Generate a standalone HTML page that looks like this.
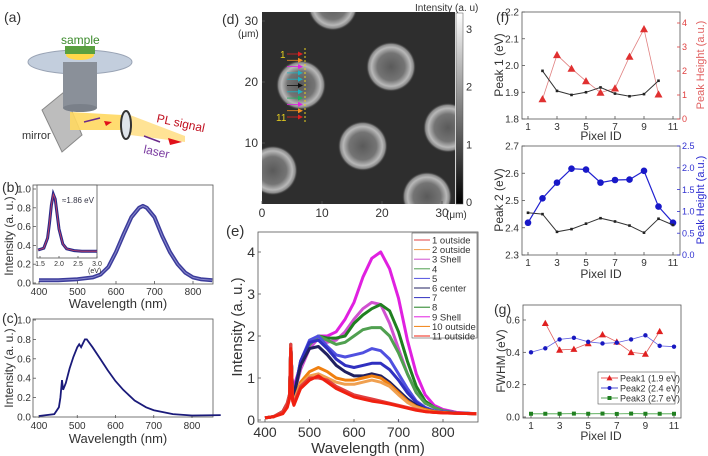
<!DOCTYPE html>
<html><head><meta charset="utf-8"><style>
html,body{margin:0;padding:0;background:#fff;}
svg{display:block;font-family:"Liberation Sans",Arial,sans-serif;}
.t{fill:#333;}
</style></head><body>
<svg id="fig" width="708" height="456" viewBox="0 0 708 456" xmlns="http://www.w3.org/2000/svg">
<defs>
<radialGradient id="ring" cx="50%" cy="50%" r="50%">
<stop offset="0" stop-color="#5a5a5a"/><stop offset="0.55" stop-color="#747474"/><stop offset="0.78" stop-color="#b8b8b8"/><stop offset="0.9" stop-color="#8a8a8a"/><stop offset="1" stop-color="#303030" stop-opacity="0"/>
</radialGradient>
<linearGradient id="cbar" x1="0" y1="0" x2="0" y2="1"><stop offset="0" stop-color="#fff"/><stop offset="1" stop-color="#000"/></linearGradient>
<clipPath id="mapclip"><rect x="262" y="12" width="193" height="192"/></clipPath>
</defs>

<g>
<text x="4" y="22" font-size="14" class="t">(a)</text>
<polygon points="42,110 64,92 82,135 62,152" fill="#bdbdbd" stroke="#888" stroke-width="1"/>
<polygon points="70,112 122,115 122,130 70,130" fill="#ffd860" opacity="0.9"/>
<polygon points="130,115 185,136 185,142 130,135" fill="#ffe08a" opacity="0.9"/>
<ellipse cx="80" cy="62" rx="52" ry="12" fill="#b9c6d8" stroke="#8894a8" opacity="0.85"/>
<rect x="63" y="62" width="34" height="46" fill="#8a9099"/>
<ellipse cx="80" cy="108" rx="17" ry="4" fill="#7a8089"/>
<ellipse cx="80" cy="55" rx="14" ry="5" fill="#ffd84a"/>
<rect x="65" y="46" width="30" height="8" fill="#5aa040"/>
<text x="61" y="44" font-size="12" fill="#3a8a2a">sample</text>
<ellipse cx="126" cy="125" rx="5" ry="14" fill="#dfe4ea" stroke="#333" stroke-width="2"/>
<line x1="84" y1="122" x2="100" y2="118" stroke="#6a2a8a" stroke-width="1.5"/>
<polygon points="104,121 112,122 106,126" fill="#e0101a"/>
<line x1="144" y1="136" x2="160" y2="142" stroke="#6a2a8a" stroke-width="1.5"/>
<polygon points="168,138 182,142 170,145" fill="#e0101a"/>
<text x="22" y="139" font-size="11" class="t">mirror</text>
<text x="156" y="122" font-size="12" fill="#c01020" transform="rotate(12 156 122)">PL signal</text>
<text x="143" y="153" font-size="12" fill="#7a3aa0" transform="rotate(12 143 153)">laser</text>
</g>

<g>
<text x="2" y="192" font-size="14" class="t">(b)</text>
<rect x="33" y="185" width="180" height="99" fill="none" stroke="#555" stroke-width="0.8"/>
<rect x="37" y="185" width="60" height="73" fill="#fff" stroke="#555" stroke-width="0.8"/>
<text x="62" y="203" font-size="8" fill="#334">≈1.86 eV</text>
<text x="118" y="308" font-size="13" text-anchor="middle" class="t">Wavelength (nm)</text>
<text transform="translate(13 236) rotate(-90)" font-size="12" text-anchor="middle" class="t">Intensity (a. u.)</text>
<g id="bticks"></g><g id="bdata"></g>
</g>

<g>
<text x="2" y="323" font-size="14" class="t">(c)</text>
<rect x="33" y="319" width="180" height="98" fill="none" stroke="#555" stroke-width="0.8"/>
<text x="118" y="443" font-size="13" text-anchor="middle" class="t">Wavelength (nm)</text>
<text transform="translate(13 368) rotate(-90)" font-size="12" text-anchor="middle" class="t">Intensity (a. u.)</text>
<g id="cticks"></g><g id="cdata"></g>
</g>

<g>
<text x="222" y="24" font-size="14" class="t">(d)</text>
<g clip-path="url(#mapclip)">
<rect x="262" y="12" width="193" height="192" fill="#2e2e2e"/>
<g id="rings"></g>
</g>
<rect x="456" y="13" width="7" height="191" fill="url(#cbar)" stroke="#555" stroke-width="0.5"/>
<text x="415" y="11" font-size="10" class="t">Intensity (a. u)</text>
<g id="cbticks"></g>
<g id="dticks"></g>
<line x1="305" y1="48" x2="305" y2="123" stroke="#e8d020" stroke-width="1" stroke-dasharray="2,2"/>
<g id="arrows"></g>
<text x="280" y="58" font-size="10" fill="#e8d020">1</text>
<text x="276" y="121" font-size="10" fill="#e8d020">11</text>
<text x="238" y="37" font-size="10" class="t">(μm)</text>
<text x="446" y="218" font-size="10" class="t">(μm)</text>
</g>

<g>
<text x="226" y="236" font-size="15" class="t">(e)</text>
<rect x="258" y="232" width="220" height="190" fill="none" stroke="#555" stroke-width="0.8"/>
<text x="368" y="453" font-size="15" text-anchor="middle" class="t">Wavelength (nm)</text>
<text transform="translate(242 327) rotate(-90)" font-size="15" text-anchor="middle" class="t">Intensity (a. u.)</text>
<g id="eticks"></g><g id="edata"></g>
<rect x="412" y="233" width="65" height="105" fill="#fff" stroke="#555" stroke-width="0.6"/>
<g id="elegend"></g>
</g>

<g>
<text x="496" y="22" font-size="14" class="t">(f)</text>
<rect x="522" y="12" width="158" height="107" fill="none" stroke="#555" stroke-width="0.8"/>
<rect x="522" y="146" width="158" height="109" fill="none" stroke="#555" stroke-width="0.8"/>
<text transform="translate(503 65) rotate(-90)" font-size="12" text-anchor="middle" class="t">Peak 1 (eV)</text>
<text transform="translate(704 65) rotate(-90)" font-size="11" text-anchor="middle" fill="#e06060">Peak Height (a.u.)</text>
<text transform="translate(503 200) rotate(-90)" font-size="12" text-anchor="middle" class="t">Peak 2 (eV)</text>
<text transform="translate(704 200) rotate(-90)" font-size="11" text-anchor="middle" fill="#2a2ad0">Peak Height (a.u.)</text>
<text x="601" y="140" font-size="12" text-anchor="middle" class="t">Pixel ID</text>
<text x="601" y="278" font-size="12" text-anchor="middle" class="t">Pixel ID</text>
<g id="fticks"></g><g id="fdata"></g>
</g>

<g>
<text x="494" y="314" font-size="14" class="t">(g)</text>
<rect x="523" y="305" width="158" height="113" fill="none" stroke="#555" stroke-width="0.8"/>
<text transform="translate(505 361) rotate(-90)" font-size="12" text-anchor="middle" class="t">FWHM (eV)</text>
<text x="601" y="440" font-size="12" text-anchor="middle" class="t">Pixel ID</text>
<g id="gticks"></g><g id="gdata"></g>
<rect x="598" y="372" width="77" height="32" fill="#fff" stroke="#555" stroke-width="0.6"/>
<g id="glegend"></g>
</g>
</svg>
<script>
const bWave=[400,450,500,540,560,580,600,620,640,660,670,680,700,720,740,760,780,800,820,850];
const bInt=[0.03,0.03,0.04,0.06,0.09,0.17,0.33,0.52,0.70,0.80,0.82,0.80,0.70,0.50,0.33,0.20,0.11,0.06,0.04,0.03];
const insetEv=[1.45,1.6,1.7,1.75,1.8,1.85,1.9,1.95,2.0,2.1,2.2,2.4,2.6,3.0];
const insetInt=[0.05,0.08,0.25,0.5,0.8,0.98,0.9,0.65,0.4,0.15,0.07,0.04,0.03,0.03];
const cWave=[400,440,452,456,460,463,470,480,490,500,505,510,520,525,540,560,580,600,620,650,680,700,750,800,875];
const cInt=[0.01,0.03,0.1,0.2,0.38,0.28,0.35,0.5,0.62,0.72,0.75,0.72,0.8,0.8,0.72,0.6,0.48,0.37,0.28,0.17,0.1,0.07,0.03,0.015,0.02];
const eWave=[400,420,440,450,455,458,462,465,480,500,520,540,560,580,600,620,640,660,680,700,720,740,760,780,800,830,875];
const eLabels=["1 outside","2 outside","3 Shell","4","5","6 center","7","8","9 Shell","10 outside","11 outside"];
const eColors=["#e04040","#f0a050","#d050d0","#50a050","#5050e0","#202060","#3030c0","#208020","#e020e0","#f08010","#f02010"];
const s1=[.05,.08,.2,.4,.6,1.8,.5,.4,.8,1.0,1.0,.95,.8,.7,.6,.55,.5,.45,.4,.35,.3,.25,.2,.18,.17,.16,.15];
const s2=[.05,.08,.2,.4,.6,1.8,.5,.45,.85,1.05,1.1,1.0,.9,.85,.85,.9,.95,.9,.8,.6,.42,.3,.22,.18,.17,.16,.15];
const s3=[.05,.08,.2,.4,.6,1.8,.6,.6,1.2,1.7,1.95,1.85,1.9,2.1,2.4,2.65,2.8,2.75,2.3,1.7,1.1,.65,.4,.3,.2,.17,.15];
const s4=[.05,.08,.2,.4,.6,1.8,.6,.6,1.3,1.8,2.0,1.9,1.8,1.85,2.0,2.15,2.2,2.2,2.0,1.6,1.1,.65,.4,.3,.22,.17,.15];
const s5=[.05,.08,.2,.4,.6,1.8,.6,.6,1.4,1.9,2.0,1.75,1.55,1.5,1.55,1.6,1.7,1.65,1.45,1.1,.75,.45,.3,.22,.2,.17,.15];
const s6=[.05,.08,.2,.4,.6,1.8,.6,.6,1.3,1.7,1.75,1.55,1.3,1.15,1.05,1.05,1.1,1.05,.9,.7,.5,.35,.25,.2,.18,.16,.15];
const s7=[.05,.08,.2,.4,.6,1.8,.6,.6,1.4,1.85,1.9,1.7,1.45,1.3,1.25,1.3,1.35,1.35,1.2,.95,.65,.42,.28,.2,.18,.16,.15];
const s8=[.05,.08,.2,.4,.6,1.8,.6,.6,1.3,1.8,2.0,1.95,1.95,2.0,2.3,2.5,2.65,2.75,2.6,2.1,1.4,.8,.45,.3,.22,.17,.15];
const s9=[.05,.08,.2,.4,.6,1.8,.6,.8,1.3,1.75,2.0,2.0,2.1,2.4,2.8,3.4,3.85,4.0,3.6,2.9,1.9,1.1,.6,.35,.25,.18,.15];
const s10=[.05,.08,.2,.4,.6,1.8,.5,.45,.9,1.15,1.25,1.15,1.0,.95,.95,1.0,1.05,1.0,.85,.65,.45,.32,.25,.2,.18,.16,.15];
const s11=[.05,.08,.15,.3,.5,1.7,.45,.35,.75,.95,1.05,.9,.75,.65,.55,.5,.45,.42,.38,.33,.28,.23,.2,.18,.17,.16,.15];
const eSeries=[s1,s2,s3,s4,s5,s6,s7,s8,s9,s10,s11];
const pixelIds=[1,2,3,4,5,6,7,8,9,10,11];
const peak1Ids=[2,3,4,5,6,7,8,9,10];
const peak1Ev=[1.98,1.905,1.89,1.90,1.918,1.895,1.885,1.893,1.943];
const peak1Height=[0.83,2.67,2.1,1.58,1.1,1.28,2.6,3.75,1.03];
const peak2Ev=[2.455,2.45,2.385,2.395,2.415,2.435,2.423,2.408,2.382,2.433,2.41];
const peak2Height=[0.74,1.3,1.66,1.98,1.96,1.66,1.72,1.73,1.93,1.11,0.74];
const fwhm1=[0.58,0.415,0.42,0.455,0.51,0.465,0.40,0.39,0.53];
const fwhm2=[0.40,0.425,0.48,0.49,0.465,0.455,0.46,0.48,0.505,0.44,0.435];
const fwhm3=[0.02,0.02,0.02,0.021,0.02,0.021,0.019,0.021,0.02,0.02,0.02];
const mapRingX=[6.5,21.5,16.8,31,1.8,11.8,27.5];
const mapRingY=[19.5,22.5,9.5,12.5,5.5,32.5,1.2];
const arrowColors=["#e02020","#f09020","#e020e0","#20b0c0","#20b0c0","#101010","#20b0c0","#20b060","#e020e0","#f09020","#e02020"];

const NS="http://www.w3.org/2000/svg";
function mk(tag,attrs,parent){const el=document.createElementNS(NS,tag);for(const k in attrs)el.setAttribute(k,attrs[k]);parent.appendChild(el);return el;}
function sc(d0,d1,r0,r1){return v=>r0+(v-d0)*(r1-r0)/(d1-d0);}
function pathD(xs,ys,fx,fy){return xs.map((x,i)=>(i?'L':'M')+fx(x).toFixed(1)+','+fy(ys[i]).toFixed(1)).join('');}
function xticks(g,vals,fx,y0,len,lab,fs,cls){vals.forEach(v=>{const l=mk('line',{x1:fx(v),x2:fx(v),y1:y0,y2:y0-len,stroke:'#555','stroke-width':0.8},g);


if(lab){const t=mk('text',{x:fx(v),y:y0+fs+1,'font-size':fs,'text-anchor':'middle',fill:cls||'#333'},g);t.textContent=lab(v);

}});}
function yticks(g,vals,fy,x0,len,lab,fs,col,anchor,dx){vals.forEach(v=>{const l=mk('line',{x1:x0,x2:x0+len,y1:fy(v),y2:fy(v),stroke:col||'#555','stroke-width':0.8},g);


const t=mk('text',{x:x0+dx,y:fy(v)+fs*0.35,'font-size':fs,'text-anchor':anchor,fill:col||'#333'},g);t.textContent=lab(v);

});}

{const fx=sc(400,800,39,193),fy=sc(0,1,283,189);const g=document.getElementById('bticks');
xticks(g,[400,500,600,700,800],fx,284,3,v=>v,10);
yticks(g,[0,0.2,0.4,0.6,0.8,1.0],fy,33,3,v=>v.toFixed(1),10,null,'end',-2);
const d=document.getElementById('bdata');
const p=mk('path',{d:pathD(bWave,bInt,fx,fy),fill:'none',stroke:'#1a1a8a','stroke-width':4,'stroke-linejoin':'round',opacity:0.85},d);


const p2=mk('path',{d:pathD(bWave,bInt,fx,fy),fill:'none',stroke:'#8888cc','stroke-width':1},d);


const ix=sc(1.5,3.0,40,97),iy=sc(0,1,253,193);
xticks(d,[1.5,2.0,2.5,3.0],ix,258,2,v=>v.toFixed(1),7);
const ip=mk('path',{d:pathD(insetEv,insetInt,ix,iy),fill:'none',stroke:'#2a2a8a','stroke-width':3},d);


const ifit=mk('path',{d:pathD(insetEv,insetInt,ix,iy),fill:'none',stroke:'#d04060','stroke-width':0.8},d);


const tu=mk('text',{x:88,y:273,'font-size':7,fill:'#333'},d);tu.textContent='(eV)';

}

{const fx=sc(400,800,39,192),fy=sc(0,1,417,320);const g=document.getElementById('cticks');
xticks(g,[400,500,600,700,800],fx,418,3,v=>v,10);
yticks(g,[0,0.2,0.4,0.6,0.8,1.0],fy,33,3,v=>v.toFixed(1),10,null,'end',-2);
const p=mk('path',{d:pathD(cWave,cInt,fx,fy),fill:'none',stroke:'#1a1a7a','stroke-width':1.8},document.getElementById('cdata'));

}

{const mx=sc(0,30,262,442),my=sc(0,30,204,21);const r=document.getElementById('rings');
mapRingX.forEach((x,i)=>{const c=mk('circle',{cx:mx(x),cy:my(mapRingY[i]),r:25,fill:'url(#ring)'},r);

});
const g=document.getElementById('dticks');
xticks(g,[0,10,20,30],mx,204,3,v=>v,12);
yticks(g,[10,20,30],my,262,3,v=>v,12,null,'end',-4);
const cb=sc(0,3,202,29);
[0,1,2,3].forEach(v=>{const t=mk('text',{x:466,y:cb(v)+4,'font-size':11,fill:'#333'},g);t.textContent=v;

});
const a=document.getElementById('arrows');
arrowColors.forEach((c,i)=>{const y=54+i*6.3;
const l=mk('line',{x1:287,x2:300,y1:y,y2:y,stroke:c,'stroke-width':0.8},a);


const h=mk('polygon',{points:`${298},${y-2.5} ${303},${y} ${298},${y+2.5}`,fill:c},a);

});}

{const fx=sc(400,800,265,443),fy=sc(0,4,420,252);const g=document.getElementById('eticks');
xticks(g,[400,500,600,700,800],fx,422,3,v=>v,14);
yticks(g,[0,1,2,3,4],fy,258,3,v=>v,14,null,'end',-3);
const d=document.getElementById('edata');
const order=[8,2,7,3,4,6,5,9,1,0,10];
order.forEach(i=>{const p=mk('path',{d:pathD(eWave,eSeries[i],fx,fy),fill:'none',stroke:eColors[i],'stroke-width':3,'stroke-linejoin':'round'},d);

});
const lg=document.getElementById('elegend');
eLabels.forEach((t,i)=>{const y=240+i*9.6;
const l=mk('line',{x1:414,x2:430,y1:y,y2:y,stroke:eColors[i],'stroke-width':1},lg);


const tx=mk('text',{x:432,y:y+3.5,'font-size':9.5,fill:'#333'},lg);tx.textContent=t;

});}

function tri(g,x,y,s,c){return mk('polygon',{points:`${x},${y-s} ${x+s},${y+s*0.8} ${x-s},${y+s*0.8}`,fill:c},g);}
{const fx=sc(1,11,528,673);const g=document.getElementById('fticks');const d=document.getElementById('fdata');
const fy1=sc(1.8,2.2,119,12),fh1=sc(0,4,119,23);
xticks(g,[1,3,5,7,9,11],fx,119,3,v=>v,10);
yticks(g,[1.8,1.9,2.0,2.1,2.2],fy1,522,3,v=>v.toFixed(1),10,null,'end',-3);
yticks(g,[0,1,2,3,4],fh1,677,3,v=>v,9,'#e04040','start',5);
let p=mk('path',{d:pathD(peak1Ids,peak1Height,fx,fh1),fill:'none',stroke:'#e08080','stroke-width':0.8},d);


peak1Ids.forEach((x,i)=>{const m=tri(d,fx(x),fh1(peak1Height[i]),4,'#e03030');

});
p=mk('path',{d:pathD(peak1Ids,peak1Ev,fx,fy1),fill:'none',stroke:'#333','stroke-width':1},d);


peak1Ids.forEach((x,i)=>{const m=mk('rect',{x:fx(x)-1.3,y:fy1(peak1Ev[i])-1.3,width:2.6,height:2.6,fill:'#222'},d);

});
const fy2=sc(2.3,2.7,255,146),fh2=sc(0,2.5,255,146);
xticks(g,[1,3,5,7,9,11],fx,255,3,v=>v,10);
yticks(g,[2.3,2.4,2.5,2.6,2.7],fy2,522,3,v=>v.toFixed(1),10,null,'end',-3);
yticks(g,[0,0.5,1.0,1.5,2.0,2.5],fh2,677,3,v=>v.toFixed(1),9,'#3030d0','start',5);
p=mk('path',{d:pathD(pixelIds,peak2Height,fx,fh2),fill:'none',stroke:'#2020d0','stroke-width':1.2},d);


pixelIds.forEach((x,i)=>{const m=mk('circle',{cx:fx(x),cy:fh2(peak2Height[i]),r:3.3,fill:'#1818c8'},d);

});
p=mk('path',{d:pathD(pixelIds,peak2Ev,fx,fy2),fill:'none',stroke:'#333','stroke-width':1},d);


pixelIds.forEach((x,i)=>{const m=mk('rect',{x:fx(x)-1.3,y:fy2(peak2Ev[i])-1.3,width:2.6,height:2.6,fill:'#222'},d);

});}

{const fx=sc(1,11,531,674),fy=sc(0,0.6,417,320);const g=document.getElementById('gticks');const d=document.getElementById('gdata');
xticks(g,[1,3,5,7,9,11],fx,418,3,v=>v,10);
yticks(g,[0,0.2,0.4,0.6],fy,523,3,v=>v.toFixed(1),10,null,'end',-3);
let p=mk('path',{d:pathD(peak1Ids,fwhm1,fx,fy),fill:'none',stroke:'#e06060','stroke-width':0.8},d);


peak1Ids.forEach((x,i)=>{const m=tri(d,fx(x),fy(fwhm1[i]),3.5,'#e02020');

});
p=mk('path',{d:pathD(pixelIds,fwhm2,fx,fy),fill:'none',stroke:'#6060e0','stroke-width':0.8},d);


pixelIds.forEach((x,i)=>{const m=mk('circle',{cx:fx(x),cy:fy(fwhm2[i]),r:2.2,fill:'#1818c0'},d);

});
p=mk('path',{d:pathD(pixelIds,fwhm3,fx,fy),fill:'none',stroke:'#40a040','stroke-width':0.8},d);


pixelIds.forEach((x,i)=>{const m=mk('rect',{x:fx(x)-2,y:fy(fwhm3[i])-2,width:4,height:4,fill:'#208020'},d);

});
const lg=document.getElementById('glegend');const labs=['Peak1 (1.9 eV)','Peak2 (2.4 eV)','Peak3 (2.7 eV)'];const cols=['#e02020','#1818c0','#208020'];
labs.forEach((t,i)=>{const y=378+i*10;
const l=mk('line',{x1:601,x2:618,y1:y,y2:y,stroke:cols[i],'stroke-width':0.8},lg);


let m;
if(i===0)m=tri(lg,609.5,y,3,cols[i]);else if(i===1)m=mk('circle',{cx:609.5,cy:y,r:2,fill:cols[i]},lg);else m=mk('rect',{x:607.5,y:y-2,width:4,height:4,fill:cols[i]},lg);


const tx=mk('text',{x:620,y:y+3.5,'font-size':9,fill:'#333'},lg);tx.textContent=t;

});}
</script>
</body></html>
